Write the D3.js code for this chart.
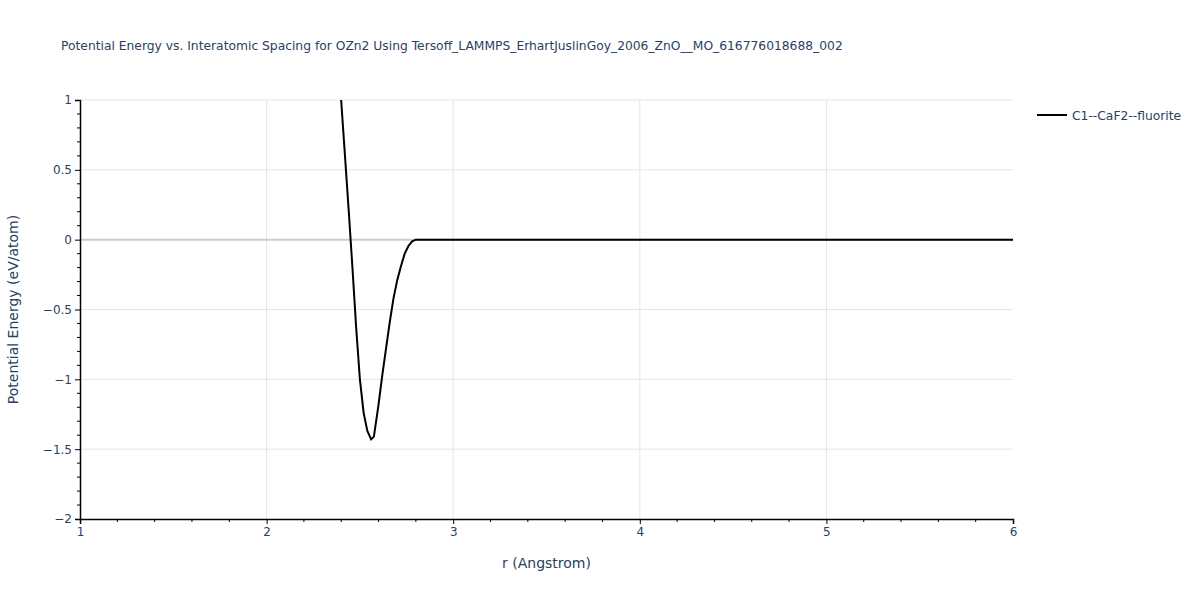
<!DOCTYPE html>
<html>
<head>
<meta charset="utf-8">
<script src="https://cdn.jsdelivr.net/npm/d3@7"></script>
<style>
  body { margin: 0; background: #fff; }
  text { font-family: "DejaVu Sans", verdana, sans-serif; fill: #2a3f5f; }
</style>
</head>
<body>
<div id="chart"></div>
<script>
// data
var seriesName = "C1--CaF2--fluorite";
var rValues = [2.38, 2.40, 2.42, 2.44, 2.46, 2.48, 2.50, 2.52, 2.54, 2.56, 2.575, 2.60, 2.62, 2.64, 2.66, 2.68,
               2.70, 2.72, 2.74, 2.76, 2.78, 2.80, 3.0, 3.5, 4.0, 4.5, 5.0, 5.5, 6.0];
var energies = [1.42, 0.99, 0.60, 0.21, -0.20, -0.63, -1.00, -1.24, -1.37, -1.43, -1.41, -1.18, -0.97, -0.78, -0.59, -0.42,
                -0.29, -0.19, -0.10, -0.045, -0.012, 0, 0, 0, 0, 0, 0, 0, 0];
var xTicks = [1, 2, 3, 4, 5, 6];
var yTicks = [1, 0.5, 0, -0.5, -1, -1.5, -2];

var margin = {top: 100, right: 187, bottom: 81, left: 80},
    width = 1200 - margin.left - margin.right,
    height = 600 - margin.top - margin.bottom;

var svg = d3.select("#chart").append("svg")
    .attr("width", 1200)
    .attr("height", 600);

var g = svg.append("g")
    .attr("transform", "translate(" + margin.left + "," + margin.top + ")");

var x = d3.scaleLinear().domain([1, 6]).range([0, width]);
var y = d3.scaleLinear().domain([-2, 1]).range([height, 0]);

// grid lines
g.selectAll(".xgrid").data(xTicks.slice(1, -1)).enter().append("line")
    .attr("x1", d => x(d)).attr("x2", d => x(d))
    .attr("y1", 0).attr("y2", height)
    .attr("stroke", "#e5e5e5").attr("stroke-width", 1);
g.selectAll(".ygrid").data(yTicks.filter(d => d !== -2)).enter().append("line")
    .attr("x1", 0).attr("x2", width)
    .attr("y1", d => y(d)).attr("y2", d => y(d))
    .attr("stroke", d => d === 0 ? "#cccccc" : "#e5e5e5")
    .attr("stroke-width", d => d === 0 ? 2 : 1);

// the curve
g.append("clipPath").attr("id", "clip")
  .append("rect").attr("width", width).attr("height", height);

var line = d3.line()
    .x(function(d, i) { return x(rValues[i]); })
    .y(function(d) { return y(d); });

g.append("path")
    .datum(energies)
    .attr("clip-path", "url(#clip)")
    .attr("fill", "none")
    .attr("stroke", "#000")
    .attr("stroke-width", 2)
    .attr("d", line);

// x axis
var xAxis = g.append("g")
    .attr("transform", "translate(0," + height + ")")
    .call(d3.axisBottom(x).tickValues(xTicks).tickFormat(d3.format("d")).tickSize(5).tickPadding(3));
xAxis.append("g").selectAll("line")
    .data(d3.range(1, 6.01, 0.2).filter(v => Math.abs(v - Math.round(v)) > 0.01))
    .enter().append("line")
    .attr("x1", d => x(d)).attr("x2", d => x(d))
    .attr("y1", 0).attr("y2", 3).attr("stroke", "#000");

// y axis
var yAxis = g.append("g")
    .call(d3.axisLeft(y).tickValues(yTicks).tickFormat(d => d < 0 ? "\u2212" + Math.abs(d) : d).tickSize(5).tickPadding(3));
yAxis.append("g").selectAll("line")
    .data(d3.range(-20, 11, 1).filter(v => v % 5 !== 0).map(v => v / 10))
    .enter().append("line")
    .attr("x1", 0).attr("x2", -3)
    .attr("y1", d => y(d)).attr("y2", d => y(d)).attr("stroke", "#000");

[xAxis, yAxis].forEach(function(a) {
  a.select(".domain").attr("stroke", "#000").attr("stroke-width", 1.5);
  a.selectAll(".tick line").attr("stroke", "#000");
  a.selectAll(".tick text").style("font-size", "12px").attr("fill", "#2a3f5f")
    .style("font-family", '"DejaVu Sans", verdana, sans-serif');
});

// title and axis titles
svg.append("text")
    .attr("x", 61).attr("y", 50)
    .style("font-size", "12.3px")
    .text("Potential Energy vs. Interatomic Spacing for OZn2 Using Tersoff_LAMMPS_ErhartJuslinGoy_2006_ZnO__MO_616776018688_002");

svg.append("text")
    .attr("x", margin.left + width / 2).attr("y", 568)
    .attr("text-anchor", "middle")
    .style("font-size", "14px")
    .text("r (Angstrom)");

svg.append("text")
    .attr("transform", "translate(18," + (margin.top + height / 2) + ") rotate(-90)")
    .attr("text-anchor", "middle")
    .style("font-size", "14px")
    .text("Potential Energy (eV/atom)");

// legend
var legend = svg.append("g").attr("transform", "translate(1037,115)");
legend.append("line")
    .attr("x1", 0).attr("x2", 30).attr("y1", 0).attr("y2", 0)
    .attr("stroke", "#000").attr("stroke-width", 2);
legend.append("text")
    .attr("x", 35).attr("y", 4.5)
    .style("font-size", "12.3px")
    .text(seriesName);
</script>
</body>
</html>
